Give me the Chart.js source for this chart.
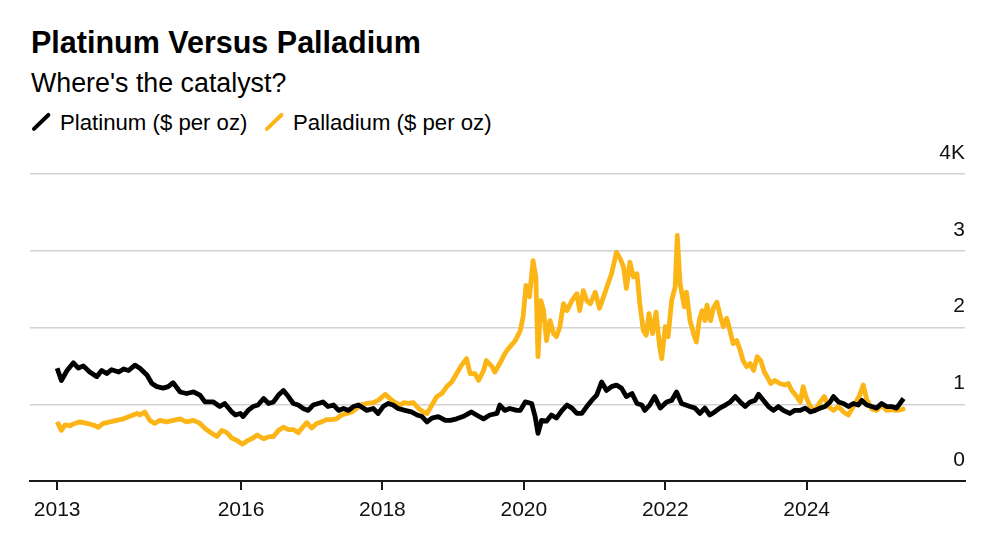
<!DOCTYPE html>
<html>
<head>
<meta charset="utf-8">
<script src="https://cdn.jsdelivr.net/npm/chart.js@4.4.1/dist/chart.umd.min.js"></script>
<style>
  html, body { margin: 0; padding: 0; background: #fff; }
  body { width: 1000px; height: 545px; position: relative; overflow: hidden;
         font-family: 'Liberation Sans', Arial, sans-serif; color: #000; }
  #chart { position: absolute; left: 0; top: 0; }
  .title { position: absolute; left: 31px; top: 27px; font-size: 30.5px; font-weight: bold; line-height: 1; white-space: nowrap; }
  .subtitle { position: absolute; left: 31px; top: 69.5px; font-size: 26.8px; line-height: 1; white-space: nowrap; }
  .legend { position: absolute; top: 111.5px; font-size: 22.2px; line-height: 1; white-space: nowrap; }
  .swatch { position: absolute; width: 24px; height: 3.5px; border-radius: 2px; transform: rotate(-44deg); }
</style>
</head>
<body>
<div class="title">Platinum Versus Palladium</div>
<div class="subtitle">Where's the catalyst?</div>
<div class="swatch" style="left:29px; top:120px; background:#000;"></div>
<div class="legend" style="left:60px;">Platinum ($ per oz)</div>
<div class="swatch" style="left:262px; top:120px; background:#fbb516;"></div>
<div class="legend" style="left:293px;">Palladium ($ per oz)</div>
<canvas id="chart" width="1000" height="545"></canvas>

<script>
// dates as decimal years, prices in $ per oz
const platinumDates = [
  2013.40, 2013.46, 2013.54, 2013.63, 2013.70, 2013.77, 2013.86, 2013.96, 2014.03, 2014.10,
  2014.17, 2014.27, 2014.34, 2014.41, 2014.50, 2014.57, 2014.67, 2014.74, 2014.81, 2014.90,
  2014.97, 2015.04, 2015.14, 2015.23, 2015.33, 2015.42, 2015.49, 2015.61, 2015.70, 2015.77,
  2015.87, 2015.92, 2015.99, 2016.03, 2016.10, 2016.17, 2016.24, 2016.32, 2016.39, 2016.46,
  2016.53, 2016.60, 2016.67, 2016.74, 2016.81, 2016.88, 2016.95, 2017.02, 2017.09, 2017.16,
  2017.23, 2017.31, 2017.38, 2017.45, 2017.52, 2017.59, 2017.66, 2017.78, 2017.87, 2017.94,
  2018.01, 2018.08, 2018.15, 2018.22, 2018.32, 2018.41, 2018.49, 2018.56, 2018.63, 2018.70,
  2018.79, 2018.89, 2018.96, 2019.05, 2019.14, 2019.26, 2019.33, 2019.43, 2019.52, 2019.62,
  2019.66, 2019.73, 2019.80, 2019.90, 2019.95, 2020.02, 2020.11, 2020.16, 2020.20, 2020.25,
  2020.32, 2020.39, 2020.46, 2020.54, 2020.61, 2020.68, 2020.75, 2020.82, 2020.89, 2020.96,
  2021.03, 2021.10, 2021.17, 2021.24, 2021.31, 2021.38, 2021.45, 2021.53, 2021.60, 2021.67,
  2021.71, 2021.78, 2021.85, 2021.93, 2022.02, 2022.09, 2022.16, 2022.23, 2022.35, 2022.42,
  2022.49, 2022.56, 2022.63, 2022.70, 2022.77, 2022.85, 2022.92, 2022.99, 2023.06, 2023.13,
  2023.20, 2023.27, 2023.32, 2023.39, 2023.46, 2023.53, 2023.60, 2023.67, 2023.76, 2023.83,
  2023.91, 2023.98, 2024.05, 2024.12, 2024.19, 2024.26, 2024.33, 2024.38, 2024.45, 2024.52,
  2024.59, 2024.66, 2024.73, 2024.78, 2024.85, 2024.92, 2024.99, 2025.06, 2025.13, 2025.20,
  2025.27, 2025.32, 2025.37
];
const platinumValues = [
  1470, 1310, 1440, 1540, 1470, 1500, 1420, 1360, 1440, 1400,
  1450, 1420, 1460, 1440, 1510, 1470, 1380, 1270, 1230, 1210,
  1230, 1280, 1160, 1140, 1160, 1120, 1030, 1030, 970, 1010,
  900, 860, 880, 840, 920, 970, 990, 1075, 1010, 1030,
  1120, 1180, 1100, 1010, 990, 945, 920, 990, 1010, 1030,
  970, 990, 920, 945, 920, 970, 990, 920, 945, 880,
  970, 1010, 990, 945, 920, 900, 860, 840, 770, 820,
  840, 790, 790, 810, 840, 900, 860, 810, 860, 880,
  990, 920, 945, 920, 920, 1030, 1010, 840, 620, 790,
  780, 860, 820, 920, 990, 950, 880, 880, 970, 1050,
  1120, 1290, 1180, 1230, 1250, 1210, 1100, 1140, 1010, 990,
  920, 990, 1100, 950, 1030, 1050, 1160, 1010, 970, 950,
  880, 950, 860, 900, 950, 990, 1030, 1100, 1030, 970,
  1030, 1050, 1130, 1050, 970, 920, 970, 920, 880, 920,
  920, 950, 900, 920, 950, 970, 1030, 1100, 1030, 1010,
  970, 1010, 990, 1050, 990, 970, 950, 1010, 970, 970,
  950, 1010, 1075
];

const palladiumDates = [
  2013.40, 2013.46, 2013.51, 2013.58, 2013.65, 2013.72, 2013.82, 2013.91, 2013.98, 2014.05,
  2014.15, 2014.24, 2014.34, 2014.43, 2014.53, 2014.57, 2014.64, 2014.71, 2014.78, 2014.85,
  2014.95, 2015.04, 2015.14, 2015.23, 2015.33, 2015.42, 2015.49, 2015.59, 2015.66, 2015.73,
  2015.80, 2015.87, 2015.94, 2016.02, 2016.10, 2016.17, 2016.23, 2016.32, 2016.39, 2016.46,
  2016.53, 2016.60, 2016.67, 2016.74, 2016.81, 2016.88, 2016.93, 2017.00, 2017.07, 2017.14,
  2017.21, 2017.28, 2017.35, 2017.42, 2017.50, 2017.57, 2017.64, 2017.68, 2017.78, 2017.87,
  2017.94, 2018.04, 2018.11, 2018.18, 2018.25, 2018.30, 2018.37, 2018.44, 2018.51, 2018.58,
  2018.63, 2018.70, 2018.77, 2018.84, 2018.91, 2018.98, 2019.05, 2019.12, 2019.19, 2019.24,
  2019.31, 2019.36, 2019.43, 2019.47, 2019.55, 2019.59, 2019.66, 2019.73, 2019.80, 2019.88,
  2019.95, 2019.99, 2020.03, 2020.08, 2020.13, 2020.17, 2020.20, 2020.24, 2020.28, 2020.32,
  2020.37, 2020.42, 2020.46, 2020.51, 2020.56, 2020.61, 2020.68, 2020.75, 2020.79, 2020.84,
  2020.89, 2020.94, 2021.01, 2021.07, 2021.12, 2021.19, 2021.24, 2021.31, 2021.36, 2021.41,
  2021.45, 2021.50, 2021.55, 2021.60, 2021.64, 2021.69, 2021.73, 2021.77, 2021.82, 2021.87,
  2021.92, 2021.95, 2022.00, 2022.04, 2022.09, 2022.14, 2022.17, 2022.21, 2022.27, 2022.30,
  2022.35, 2022.40, 2022.44, 2022.48, 2022.52, 2022.56, 2022.59, 2022.64, 2022.68, 2022.73,
  2022.77, 2022.82, 2022.87, 2022.92, 2022.96, 2023.01, 2023.06, 2023.10, 2023.15, 2023.20,
  2023.25, 2023.30, 2023.35, 2023.40, 2023.44, 2023.49, 2023.55, 2023.62, 2023.69, 2023.74,
  2023.79, 2023.86, 2023.91, 2023.95, 2023.99, 2024.05, 2024.12, 2024.19, 2024.25, 2024.31,
  2024.38, 2024.45, 2024.52, 2024.59, 2024.64, 2024.71, 2024.75, 2024.80, 2024.85, 2024.92,
  2024.99, 2025.06, 2025.13, 2025.20, 2025.27, 2025.34, 2025.39
];
const palladiumValues = [
  770, 660, 730, 720, 750, 770, 750, 730, 700, 750,
  770, 790, 810, 845, 880, 860, 900, 790, 750, 790,
  770, 790, 810, 770, 790, 750, 685, 620, 580, 660,
  630, 560, 530, 480, 530, 560, 600, 550, 575, 580,
  660, 700, 670, 670, 630, 710, 760, 690, 750, 770,
  800, 800, 810, 860, 880, 900, 950, 990, 1010, 1020,
  1050, 1130, 1070, 1020, 990, 1020, 1010, 1020, 945, 900,
  880, 990, 1100, 1140, 1230, 1290, 1400, 1510, 1595, 1400,
  1400, 1310, 1440, 1570, 1490, 1420, 1530, 1660, 1745, 1830,
  1960, 2140, 2550, 2400, 2870, 2660, 1620, 2350, 2220, 1830,
  2090, 1920, 1880, 2010, 2310, 2220, 2350, 2440, 2220, 2480,
  2350, 2310, 2460, 2250, 2380, 2570, 2700, 2980, 2900, 2790,
  2510, 2850, 2660, 2700, 2310, 1960, 1900, 2180, 1920, 2200,
  1750, 1595, 2010, 1880, 2350, 2530, 3200, 2570, 2270, 2460,
  2090, 1920, 1810, 2090, 2220, 2090, 2290, 2090, 2250, 2330,
  2180, 2010, 2120, 1940, 1790, 1830, 1700, 1570, 1490, 1530,
  1440, 1620, 1570, 1420, 1360, 1270, 1310, 1270, 1250, 1270,
  1180, 1100, 1030, 1230, 1100, 970, 920, 1030, 1100, 970,
  920, 970, 900, 860, 940, 1050, 1120, 1250, 1060, 940,
  920, 990, 920, 930, 920, 930, 950
];

// x ticks: first mark sits on the first observation
const tickYears = [platinumDates[0], 2016, 2018, 2020, 2022, 2024];
const tickLabels = ['2013', '2016', '2018', '2020', '2022', '2024'];
const yTickLabels = ['0', '1', '2', '3', '4K'];

const toPoints = (dates, values) => dates.map((d, i) => ({ x: d, y: values[i] }));

new Chart(document.getElementById('chart'), {
  type: 'line',
  data: {
    datasets: [
      {
        label: 'Platinum ($ per oz)',
        data: toPoints(platinumDates, platinumValues),
        borderColor: '#000000',
        borderWidth: 4.8,
        pointRadius: 0,
        tension: 0,
        borderJoinStyle: 'round'
      },
      {
        label: 'Palladium ($ per oz)',
        data: toPoints(palladiumDates, palladiumValues),
        borderColor: '#fbb516',
        borderWidth: 4.8,
        pointRadius: 0,
        tension: 0,
        borderJoinStyle: 'round'
      }
    ]
  },
  options: {
    responsive: false,
    animation: false,
    layout: { padding: { left: 30, right: 35, top: 174, bottom: 22 } },
    plugins: {
      legend: { display: false },
      tooltip: { enabled: false }
    },
    scales: {
      x: {
        type: 'linear',
        min: 2013.016,
        max: 2026.239,
        afterBuildTicks: scale => { scale.ticks = tickYears.map(v => ({ value: v })); },
        afterFit: scale => { scale.height = 42; },
        grid: { drawOnChartArea: false, drawTicks: true, tickLength: 9, color: '#1a1a1a', lineWidth: 2 },
        border: { display: true, color: '#1a1a1a', width: 2 },
        ticks: {
          autoSkip: false,
          maxRotation: 0,
          padding: 8,
          color: '#111',
          font: { family: "'Liberation Sans', Arial, sans-serif", size: 21 },
          callback: (value, index) => tickLabels[index]
        }
      },
      y: {
        position: 'right',
        min: 0,
        max: 4000,
        afterBuildTicks: scale => { scale.ticks = [0, 1000, 2000, 3000, 4000].map(v => ({ value: v })); },
        afterFit: scale => { scale.width = 0; },
        grid: { color: '#d2d2d2', lineWidth: 1.5, drawTicks: false },
        border: { display: false },
        ticks: {
          mirror: true,
          padding: 0,
          labelOffset: -21,
          color: '#111',
          font: { family: "'Liberation Sans', Arial, sans-serif", size: 21 },
          callback: (value, index) => yTickLabels[index]
        }
      }
    }
  }
});
</script>
</body>
</html>
